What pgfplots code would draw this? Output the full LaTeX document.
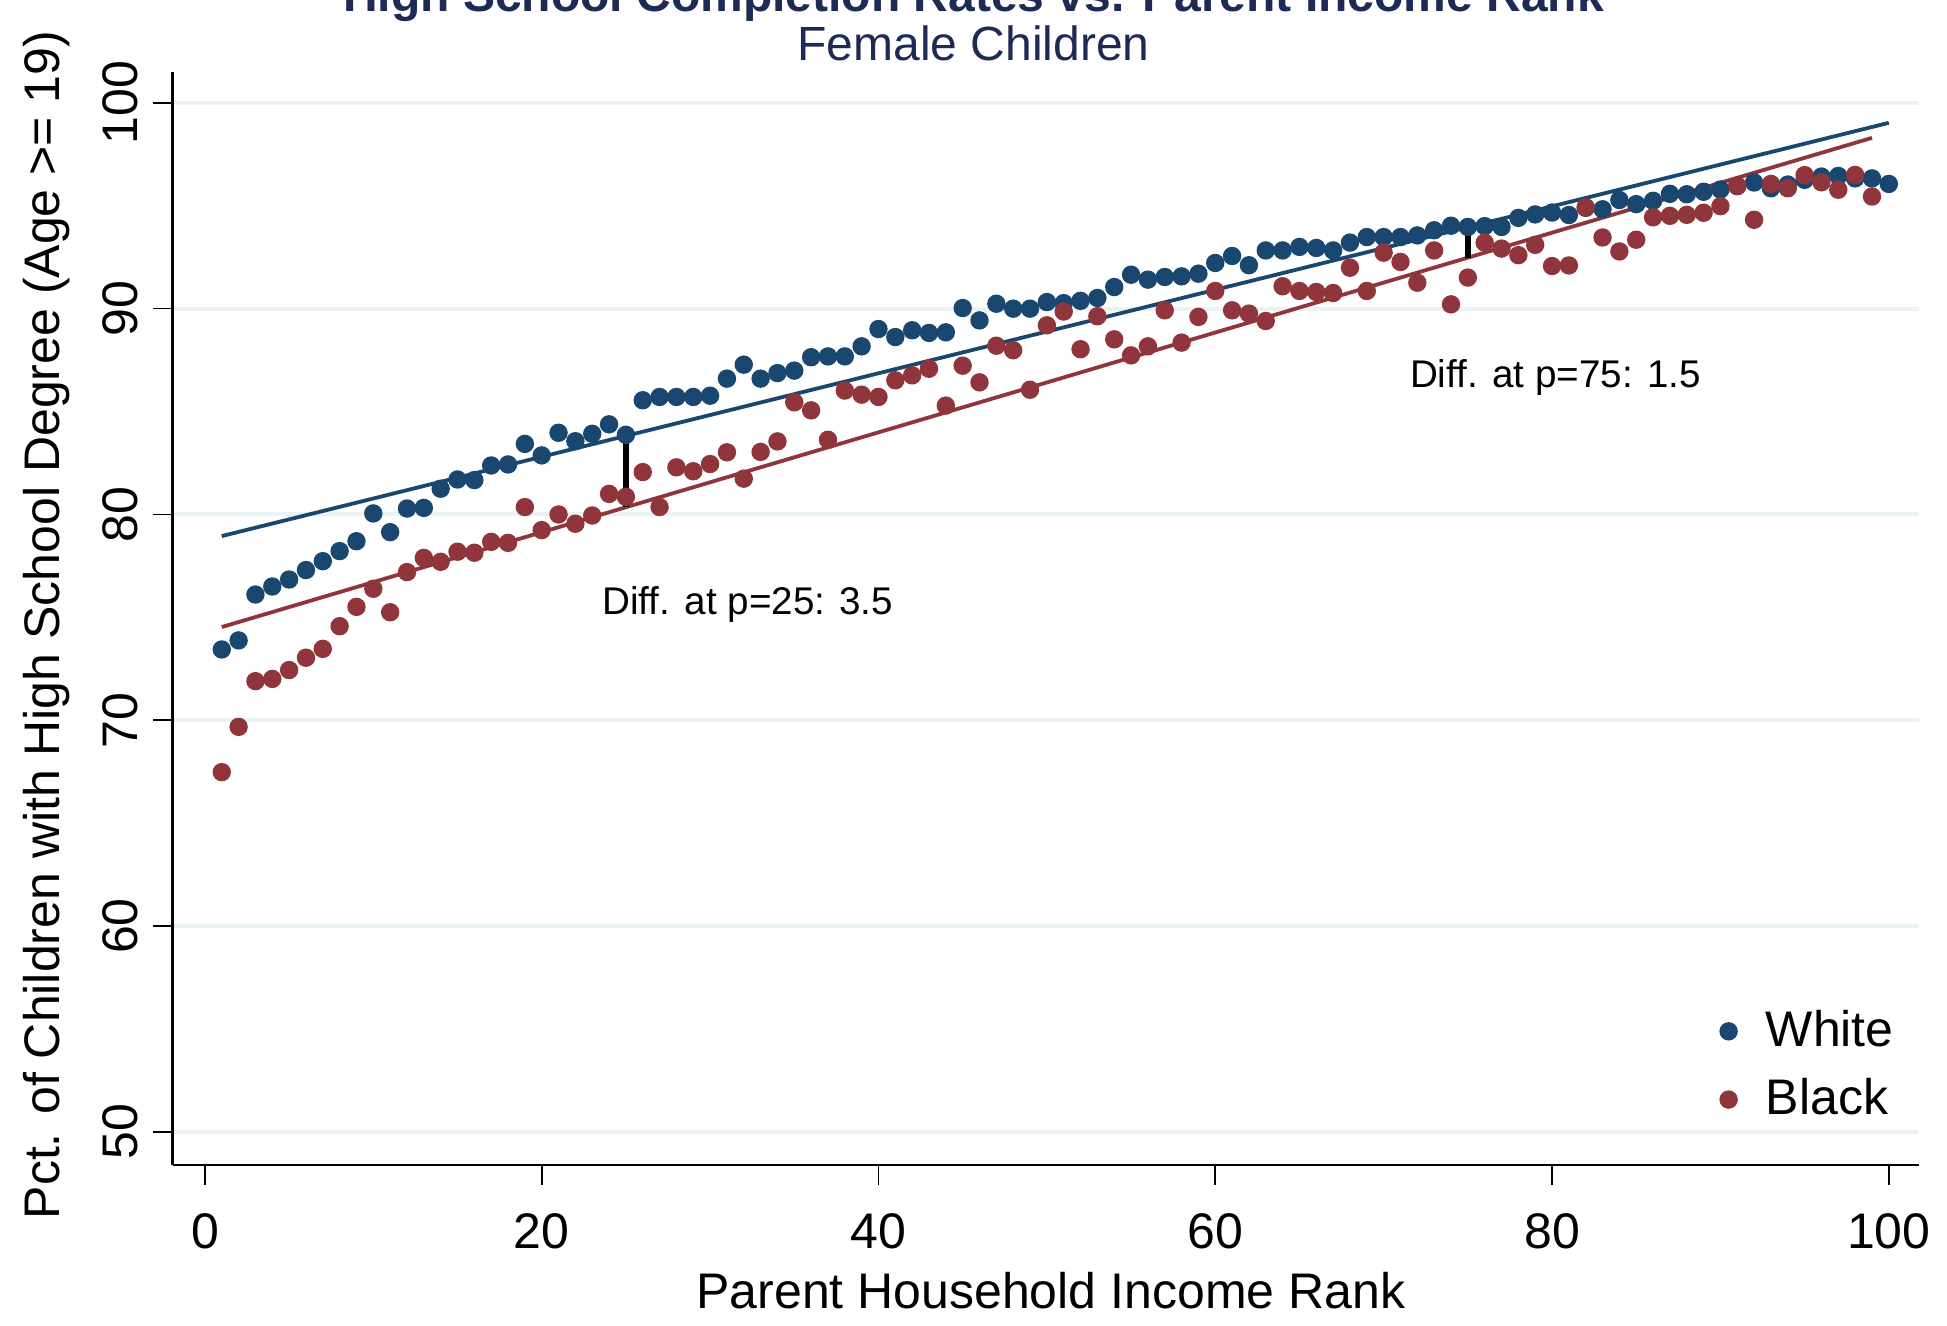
\documentclass[border=0pt]{standalone}
\usepackage{fontspec}
\setmainfont{Liberation Sans}
\usepackage{pgfplots}
\pgfplotsset{compat=1.18}

\definecolor{stnavy}{RGB}{26,71,111}
\definecolor{stmaroon}{RGB}{144,53,59}
\definecolor{stgrid}{RGB}{234,242,243}
\definecolor{sttitle}{RGB}{28,42,85}

% percentile rank vs. share with high school degree
\pgfplotstableread{
r y
1 73.44
2 73.88
3 76.11
4 76.50
5 76.84
6 77.30
7 77.73
8 78.22
9 78.70
10 80.05
11 79.14
12 80.29
13 80.32
14 81.25
15 81.70
16 81.67
17 82.38
18 82.43
19 83.43
20 82.87
21 83.97
22 83.56
23 83.92
24 84.38
25 83.87
26 85.55
27 85.71
28 85.71
29 85.71
30 85.77
31 86.60
32 87.28
33 86.60
34 86.87
35 86.99
36 87.64
37 87.68
38 87.68
39 88.17
40 89.01
41 88.62
42 88.95
43 88.82
44 88.85
45 90.03
46 89.43
47 90.24
48 90.00
49 90.00
50 90.32
51 90.27
52 90.38
53 90.52
54 91.05
55 91.65
56 91.41
57 91.54
58 91.57
59 91.70
60 92.22
61 92.56
62 92.11
63 92.83
64 92.83
65 93.00
66 92.95
67 92.83
68 93.21
69 93.48
70 93.48
71 93.48
72 93.56
73 93.81
74 94.03
75 93.97
76 94.01
77 93.97
78 94.41
79 94.58
80 94.67
81 94.55
82 94.90
83 94.83
84 95.28
85 95.08
86 95.24
87 95.58
88 95.56
89 95.68
90 95.79
91 95.95
92 96.13
93 95.85
94 96.03
95 96.26
96 96.42
97 96.45
98 96.33
99 96.33
100 96.06
}\white

\pgfplotstableread{
r y
1 67.48
2 69.68
3 71.90
4 72.01
5 72.44
6 73.04
7 73.47
8 74.57
9 75.51
10 76.39
11 75.25
12 77.20
13 77.89
14 77.70
15 78.19
16 78.14
17 78.67
18 78.62
19 80.36
20 79.24
21 80.00
22 79.55
23 79.95
24 81.00
25 80.86
26 82.06
27 80.36
28 82.29
29 82.10
30 82.45
31 83.02
32 81.74
33 83.04
34 83.55
35 85.45
36 85.06
37 83.63
38 86.02
39 85.82
40 85.71
41 86.52
42 86.76
43 87.08
44 85.29
45 87.23
46 86.42
47 88.20
48 87.98
49 86.06
50 89.19
51 89.86
52 88.03
53 89.63
54 88.51
55 87.73
56 88.17
57 89.92
58 88.35
59 89.60
60 90.86
61 89.92
62 89.76
63 89.40
64 91.09
65 90.86
66 90.81
67 90.76
68 91.99
69 90.86
70 92.72
71 92.27
72 91.26
73 92.83
74 90.21
75 91.51
76 93.21
77 92.92
78 92.60
79 93.10
80 92.07
81 92.10
82 94.92
83 93.46
84 92.78
85 93.35
86 94.44
87 94.51
88 94.56
89 94.66
90 94.98
91 95.97
92 94.32
93 96.06
94 95.85
95 96.49
96 96.14
97 95.78
98 96.50
99 95.45
}\black

\begin{document}
\begin{tikzpicture}
\useasboundingbox (0pt,0pt) rectangle (486.75pt,331.5pt);
\node[anchor=base, inner sep=0pt, text=sttitle, font=\fontsize{12}{14}\selectfont\bfseries]
  at (243.4pt,328.5pt) {High School Completion Rates vs. Parent Income Rank};
\node[anchor=base, inner sep=0pt, text=sttitle, font=\fontsize{12}{14}\selectfont]
  at (243.4pt,316.25pt) {Female Children};

\begin{axis}[
    scale only axis,
    width=436.5pt, height=273.2pt,
    at={(43.15pt,40.3pt)}, anchor=south west,
    xmin=-1.92, xmax=101.77, ymin=48.4, ymax=101.5,
    axis x line*=bottom, axis y line*=left,
    axis line style={-, line width=0.6pt},
    xtick={0,20,...,100}, ytick={50,60,...,100},
    tick align=outside, major tick length=5pt,
    tick style={black, line width=0.4pt},
    ymajorgrids, major grid style={stgrid, line width=1pt},
    /pgf/number format/assume math mode=true,
    tick label style={font=\fontsize{12.5}{15}\selectfont},
    xticklabel style={yshift=-3.7pt},
    yticklabel style={rotate=90, anchor=south},
    label style={font=\fontsize{12.5}{15}\selectfont},
    xlabel={Parent Household Income Rank},
    ylabel={Pct. of Children with High School Degree (Age >= 19)},
    xlabel style={at={(axis description cs:0.503,-0.1147)}, anchor=center},
    ylabel style={at={(axis description cs:-0.0719,0.494)}, anchor=center},
    legend cell align=left,
    legend image code/.code={%
      \draw[#1] plot coordinates {(0pt,0pt)};
      \path[draw=none, fill=none] (-2.1pt,-0.1pt) rectangle (7.3pt,0.1pt);},
    legend style={draw=none, fill=none, font=\fontsize{12.5}{15}\selectfont,
      at={(axis description cs:0.9976,0.025)}, anchor=south east, row sep=2.5pt},
]
% fitted lines
\addplot[stnavy, line width=0.95pt, forget plot] coordinates {(1,78.95) (100,99.03)};
\addplot[stmaroon, line width=0.95pt, forget plot] coordinates {(1,74.53) (99,98.30)};

\addplot[stnavy, only marks, mark=*, mark size=2.1pt] table[x=r, y=y] {\white};
\addlegendentry{White}
\addplot[stmaroon, only marks, mark=*, mark size=2.1pt] table[x=r, y=y] {\black};
\addlegendentry{Black}

% gap between the fits at p=25 and p=75
\addplot[black, line width=1.5pt, forget plot] coordinates {(25,83.83) (25,80.35)};
\addplot[black, line width=1.5pt, forget plot] coordinates {(75,93.94) (75,92.47)};

\node[anchor=base west, inner sep=0pt, font=\fontsize{9.65}{12}\selectfont]
  at (axis cs:23.56,75.15) {Diff. at p=25: 3.5};
\node[anchor=base west, inner sep=0pt, font=\fontsize{9.65}{12}\selectfont]
  at (axis cs:71.52,86.16) {Diff. at p=75: 1.5};
\end{axis}
\end{tikzpicture}
\end{document}
